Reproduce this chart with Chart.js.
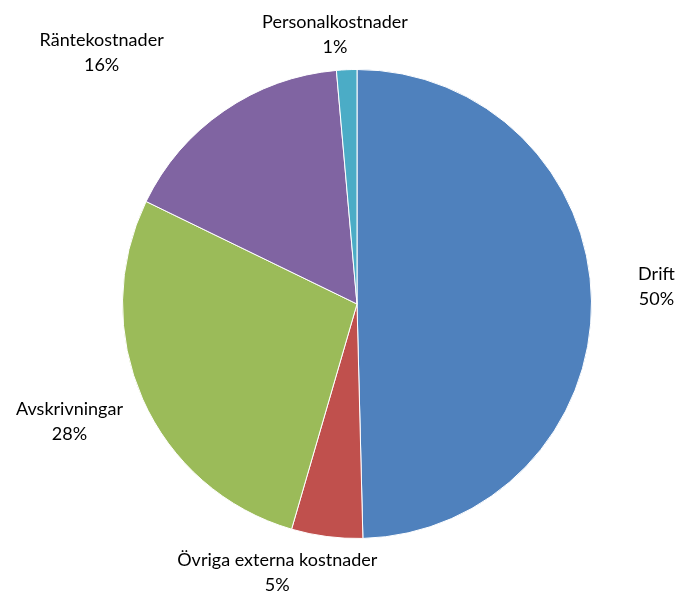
<!DOCTYPE html>
<html>
<head>
<meta charset="utf-8">
<script src="https://cdn.jsdelivr.net/npm/chart.js@4.4.1/dist/chart.umd.min.js"></script>
<style>
  html, body { margin: 0; padding: 0; background: #fff; }
  canvas { display: block; }
</style>
</head>
<body>
<canvas id="pieChart" width="679" height="594"></canvas>
<script>
// data
const categories = ["Drift", "Övriga externa kostnader", "Avskrivningar", "Räntekostnader", "Personalkostnader"];
const shares = [49.6, 4.9, 27.7, 16.4, 1.4];
const colors = ["#4F81BD", "#C0504D", "#9BBB59", "#8064A2", "#4BACC6"];

// first-line baseline of each label, relative to pie centre in units of radius
const labelSpots = [[1.277, -0.102], [-0.34, 1.119], [-1.226, 0.472], [-1.089, -1.102], [-0.094, -1.179]];

const labelPlugin = {
  id: "sliceLabels",
  afterDraw(chart) {
    const ctx = chart.ctx;
    const meta = chart.getDatasetMeta(0);
    const total = shares.reduce((a, b) => a + b, 0);
    ctx.save();
    ctx.font = "18px Lato, 'Open Sans', sans-serif";
    ctx.fillStyle = "#000";
    ctx.textAlign = "center";
    ctx.textBaseline = "alphabetic";
    meta.data.forEach((arc, i) => {
      const r = arc.outerRadius;
      const x = arc.x + labelSpots[i][0] * r;
      const y = arc.y + labelSpots[i][1] * r;
      const pct = Math.round(shares[i] / total * 100) + "%";
      ctx.fillText(categories[i], x, y);
      ctx.fillText(pct, x, y + 25);
    });
    ctx.restore();
  }
};

new Chart(document.getElementById("pieChart").getContext("2d"), {
  type: "pie",
  data: {
    labels: categories,
    datasets: [{
      data: shares,
      backgroundColor: colors,
      borderColor: "#fff",
      borderWidth: 1
    }]
  },
  options: {
    responsive: false,
    animation: false,
    layout: { padding: { left: 122, right: 87, top: 69, bottom: 55 } },
    plugins: {
      legend: { display: false },
      tooltip: { enabled: false }
    }
  },
  plugins: [labelPlugin]
});
</script>
</body>
</html>
